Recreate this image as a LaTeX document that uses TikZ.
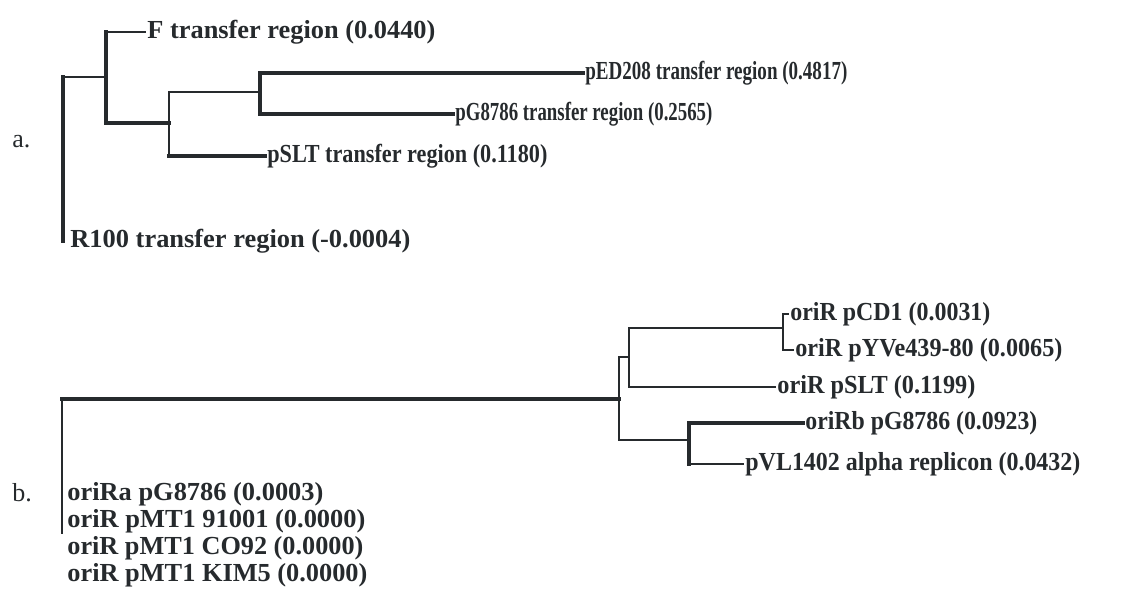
\documentclass[tikz,border=0pt]{standalone}
\usepackage{fontspec}
\usepackage{graphicx}
\setmainfont{Liberation Serif}
\definecolor{ink}{RGB}{38,42,45}
\newcommand\leaflbl[2]{\resizebox{#1pt}{\height}{#2}}
\tikzset{
	thickbr/.style={ink, line width=1.9pt, line cap=rect},
	midbr/.style={ink, line width=1.3pt, line cap=rect},
	thinbr/.style={ink, line width=0.9pt, line cap=rect},
	leaf/.style={anchor=west, inner xsep=1pt, inner ysep=0pt, text=ink,
		font=\fontsize{13}{15}\selectfont\bfseries},
	part/.style={anchor=west, inner sep=0pt, text=ink,
		font=\fontsize{13}{15}\selectfont}
}
\begin{document}
\begin{tikzpicture}[x=0.5pt, y=-0.5pt]
	\useasboundingbox (0,0) rectangle (1136,603);
	
	%Baum a
	\node[part] (la) at (12,142) {a.};
	\coordinate (aR) at (63,77);
	\coordinate (a1) at (106,77);
	\coordinate (a2) at (169,123);
	\coordinate (a3) at (260,92);
	\node[leaf] (aF) at (145,32) {\leaflbl{144}{F transfer region (0.0440)}};
	\node[leaf] (aED) at (583,73) {\leaflbl{131}{pED208 transfer region (0.4817)}};
	\node[leaf] (aG) at (453,114) {\leaflbl{128.5}{pG8786 transfer region (0.2565)}};
	\node[leaf] (aSLT) at (265,156) {\leaflbl{140}{pSLT transfer region (0.1180)}};
	\node[leaf] (aR100) at (68,241) {\leaflbl{170}{R100 transfer region (-0.0004)}};
	
	\draw[thickbr] (aR) -- (aR |- aR100.west);
	\draw[thinbr] (aR) -- (a1);
	\draw[thickbr] (a1 |- aF.west) -- (a1 |- a2);
	\draw[thinbr] (a1 |- aF.west) -- (aF.west);
	\draw[thickbr] (a1 |- a2) -- (a2);
	\draw[thinbr] (a2 |- a3) -- (a2 |- aSLT.west);
	\draw[thinbr] (a2 |- a3) -- (a3);
	\draw[thickbr] (a2 |- aSLT.west) -- (aSLT.west);
	\draw[thickbr] (a3 |- aED.west) -- (a3 |- aG.west);
	\draw[thickbr] (a3 |- aED.west) -- (aED.west);
	\draw[thickbr] (a3 |- aG.west) -- (aG.west);
	
	%Baum b
	\node[part] (lb) at (12,493) {b.};
	\coordinate (bR) at (62,399);
	\coordinate (bA) at (619,399);
	\coordinate (bB) at (629,357);
	\coordinate (bC) at (783,328);
	\coordinate (bD) at (689,440);
	\node[leaf] (bCD1) at (788,314) {\leaflbl{100}{oriR pCD1 (0.0031)}};
	\node[leaf] (bYVe) at (793,350) {\leaflbl{133.5}{oriR pYVe439-80 (0.0065)}};
	\node[leaf] (bSLT) at (775,387) {\leaflbl{99}{oriR pSLT (0.1199)}};
	\node[leaf] (bRb) at (803,423) {\leaflbl{116}{oriRb pG8786 (0.0923)}};
	\node[leaf] (bVL) at (743,464) {\leaflbl{167.5}{pVL1402 alpha replicon (0.0432)}};
	\node[leaf] (bRa) at (65,494) {\leaflbl{128}{oriRa pG8786 (0.0003)}};
	\node[leaf] (bM1) at (65,521) {\leaflbl{149}{oriR pMT1 91001 (0.0000)}};
	\node[leaf] (bM2) at (65,548) {\leaflbl{148}{oriR pMT1 CO92 (0.0000)}};
	\node[leaf] (bM3) at (65,575) {\leaflbl{150}{oriR pMT1 KIM5 (0.0000)}};
	
	\draw[thinbr] (bR) -- (bR |- bM1.south);
	\draw[thickbr] (bR) -- (bA);
	\draw[thinbr] (bA |- bB) -- (bA |- bD);
	\draw[thinbr] (bA |- bB) -- (bB);
	\draw[thinbr] (bB |- bC) -- (bB |- bSLT.west);
	\draw[thinbr] (bB |- bC) -- (bC);
	\draw[thinbr] (bB |- bSLT.west) -- (bSLT.west);
	\draw[thinbr] (bC |- bCD1.west) -- (bC |- bYVe.west);
	\draw[thinbr] (bC |- bCD1.west) -- (bCD1.west);
	\draw[thinbr] (bC |- bYVe.west) -- (bYVe.west);
	\draw[midbr] (bA |- bD) -- (bD);
	\draw[thickbr] (bD |- bRb.west) -- (bD |- bVL.west);
	\draw[thickbr] (bD |- bRb.west) -- (bRb.west);
	\draw[midbr] (bD |- bVL.west) -- (bVL.west);
	
\end{tikzpicture}
\end{document}
